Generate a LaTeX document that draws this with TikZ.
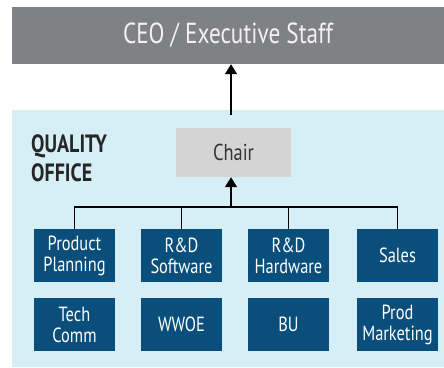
\documentclass[tikz,border=0pt]{standalone}
\usepackage{fontspec}
\setmainfont{PT Sans}[FakeStretch=0.8]
\usetikzlibrary{arrows.meta}
\definecolor{ceogray}{HTML}{808184}
\definecolor{officeblue}{HTML}{D6EEF6}
\definecolor{chairgray}{HTML}{D4D4D4}
\definecolor{unitblue}{HTML}{0A4F7C}

\tikzset{
    unit/.style={fill=unitblue, text=white, minimum width=81pt, minimum height=53pt,
        inner sep=0pt, align=center, font=\fontsize{20.5}{21}\selectfont},
    link/.style={black, line width=1.6pt},
    uparrow/.style={link, -{Triangle[length=10pt, width=12pt]}}
}

\begin{document}
\begin{tikzpicture}[x=1pt, y=-1pt]

\useasboundingbox (0,0) rectangle (444,367);

% Backgrounds
\fill[officeblue] (12,110) rectangle (444,367);
\node[fill=ceogray, text=white!95!black, minimum width=432pt, minimum height=57pt, inner sep=0pt,
    font=\fontsize{29}{30}\selectfont] (ceo) at (228,35.5) {CEO / Executive Staff};

% Office title
\node[anchor=north west, align=left, inner sep=0pt, text=black!85,
    font=\bfseries\fontsize{25}{29}\selectfont] (title) at (31,134) {QUALITY\\OFFICE};

% Chair
\node[fill=chairgray, text=black!80, minimum width=115pt, minimum height=49pt, inner sep=0pt,
    font=\fontsize{23}{24}\selectfont] (chair) at (233.5,152.5) {Chair};

% First row
\node[unit] (plan)  at (74.5,255.5)  {Product\\Planning};
\node[unit] (soft)  at (181.5,255.5) {R\&D\\Software};
\node[unit] (hard)  at (288.5,255.5) {R\&D\\Hardware};
\node[unit] (sales) at (397.5,255.5) {Sales};

% Second row
\node[unit] (tech)  at (74.5,324.5)  {Tech\\Comm};
\node[unit] (wwoe)  at (181.5,324.5) {WWOE};
\node[unit] (bu)    at (288.5,324.5) {BU};
\node[unit] (mark)  at (397.5,324.5) {Prod\\Marketing};

% Connectors
\coordinate (bus)  at (231,207);
\coordinate (edge) at (231,115);
\draw[link] (plan.north) -- (plan.north |- bus) -- (sales.north |- bus) -- (sales.north);
\draw[link] (soft.north) -- (soft.north |- bus);
\draw[link] (hard.north) -- (hard.north |- bus);
\draw[uparrow] (bus) -- (bus |- chair.south);
\draw[uparrow] (edge) -- (edge |- ceo.south);

\end{tikzpicture}
\end{document}
